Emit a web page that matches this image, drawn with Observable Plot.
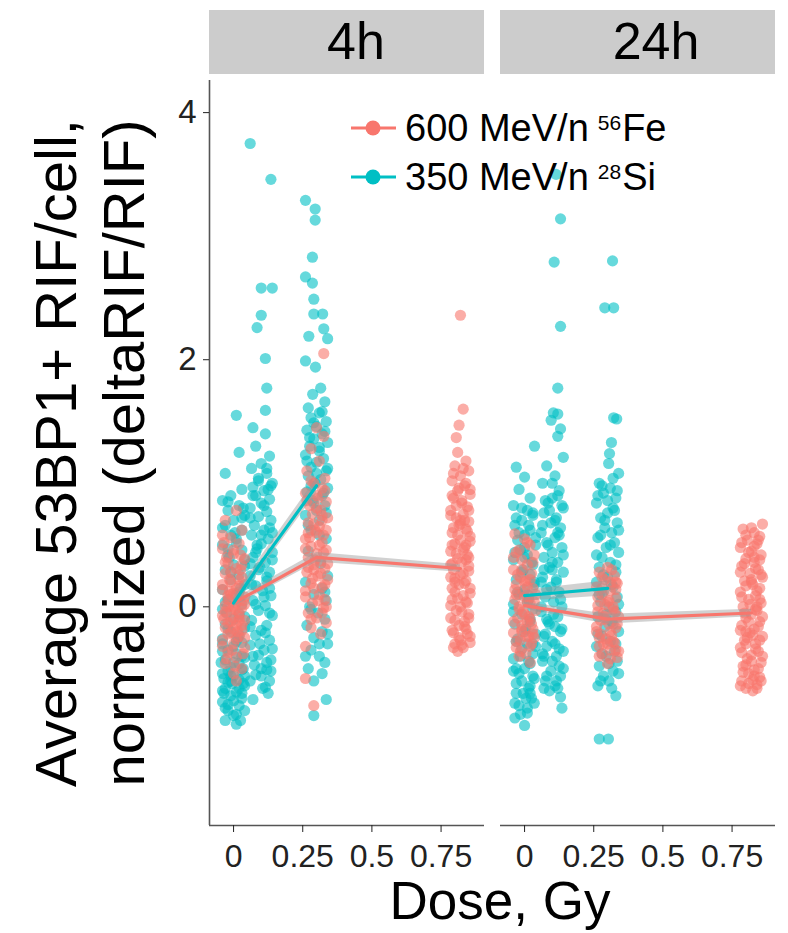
<!DOCTYPE html>
<html>
<head>
<meta charset="utf-8">
<script src="https://cdn.jsdelivr.net/npm/d3@7"></script>
<script src="https://cdn.jsdelivr.net/npm/@observablehq/plot@0.6"></script>
<style>
  html, body { margin: 0; padding: 0; background: white; }
  #wrap { position: relative; width: 788px; height: 933px; font-family: "Liberation Sans", Arial, Helvetica, sans-serif; }
  #xlabel { position: absolute; left: 300px; width: 400px; top: 874px; text-align: center; font-size: 53px; line-height: 53px; color: black; }
  #legend { position: absolute; left: 0; top: 0; pointer-events: none; }
</style>
</head>
<body>
<div id="wrap"></div>
<script>
// ---------- data ----------
const times = ["4h", "24h"];
const ionKeys = ["Fe", "Si"];
const ionLabels = ["600 MeV/n", "350 MeV/n"];
const ionIsotopeMass = ["56", "28"];
const ionElement = ["Fe", "Si"];
const ionColors = ["#F8766D", "#00BFC4"];
const xTicks = [0, 0.25, 0.5, 0.75];
const yTicks = [0, 2, 4];
const xDomain = [-0.087, 0.907];
const yDomain = [-1.77, 4.26];
const yTitle = "Average 53BP1+ RIF/cell,\nnormalized (deltaRIF/RIF)";
const xTitle = "Dose, Gy";

const dosesFe = [0, 0.3, 0.82];
const dosesSi = [0, 0.1, 0.3];

// group means and half-width of the grey band
const fe4hMean = [0.03, 0.40, 0.31];
const fe4hBand = [0.03, 0.04, 0.03];
const si4hMean = [0.03, 0.36, 0.98];
const si4hBand = [0.04, 0.05, 0.06];
const fe24hMean = [0.01, -0.10, -0.05];
const fe24hBand = [0.03, 0.04, 0.03];
const si24hMean = [0.09, 0.11, 0.15];
const si24hBand = [0.04, 0.05, 0.06];

// individual cells: [jitter offset (Gy), value]
const si4h_0 = [[.01,1.55],[.02,1.25],[-.03,1.08],[.03,0.95],[-.01,0.9],[-.04,0.86],[.02,0.82],[-.02,0.78],[.04,0.74],[0,0.70],
[-.03,0.66],[.03,0.62],[-.01,0.58],[.01,0.55],[-.04,0.5],[.03,0.46],[-.02,0.42],[.04,0.38],[0,0.34],[-.03,0.3],
[.02,0.26],[-.01,0.22],[.04,0.18],[-.04,0.14],[.01,0.1],[-.02,0.06],[.03,0.02],[-.04,-0.02],[.02,-0.06],[0,-0.1],
[-.03,-0.14],[.04,-0.17],[-.01,-0.2],[.02,-0.23],[-.04,-0.26],[.03,-0.29],[0,-0.32],[-.02,-0.35],[.01,-0.38],[.04,-0.41],
[-.03,-0.43],[.02,-0.46],[-.01,-0.49],[.03,-0.51],[-.04,-0.54],[0,-0.56],[.02,-0.59],[-.02,-0.61],[.04,-0.64],[-.03,-0.66],
[.01,-0.69],[-.01,-0.72],[.03,-0.74],[-.04,-0.77],[.02,-0.8],[-.02,-0.84],[0,-0.88],[-.03,-0.92],[.01,-0.95],[-.04,-0.3],
[.035,-0.5],[-.035,-0.7],[.015,-0.25],[-.015,0.4],[.025,0.15],[-.025,-0.05],[.005,0.6],[-.005,-0.62],[.035,0.8],[-.045,-0.45],
[-.02,0.85],[.03,0.72],[-.04,0.64],[.01,0.52],[-.02,0.47],[.04,0.33],[-.01,0.28],[.02,0.12],[-.03,0.04],[.04,-0.08],[-.02,-0.18],[.01,-0.28],[-.04,-0.36],[.03,-0.4],[0,-0.45],
[-.02,-0.52],[.04,-0.56],[-.01,-0.6],[.02,-0.66],[-.04,-0.68],[.03,-0.7],[0,-0.76],[-.02,-0.79],[.04,-0.84],[.01,-0.87],[-.03,-0.82],[.025,-0.92],[-.01,-0.56],[.035,-0.62],[-.035,-0.58]];
const si4h_1 = [[-.04,3.75],[.035,3.46],[0,2.58],[.04,2.58],[0,2.36],[-.015,2.26],[.015,2.01],[.02,1.77],[.015,1.59],[-.03,1.45],[.015,1.4],
[-.02,1.3],[.03,1.22],[0,1.16],[-.035,1.12],[.02,1.08],[-.01,1.04],[.04,1.0],[-.03,0.97],[.01,0.94],[-.02,0.9],[.03,0.87],
[0,0.84],[-.04,0.8],[.02,0.77],[-.01,0.73],[.035,0.7],[-.025,0.66],[.01,0.62],[-.035,0.58],[.025,0.55],[0,0.51],[-.015,0.47],
[.04,0.44],[-.03,0.4],[.015,0.36],[-.005,0.32],[.03,0.28],[-.04,0.25],[.02,0.21],[-.02,0.17],[.005,0.13],[.035,0.09],[-.03,0.05],
[.015,0.01],[-.01,-0.03],[.04,-0.07],[-.035,-0.11],[.02,-0.15],[0,-0.19],[-.02,-0.23],[.03,-0.27],[-.04,-0.31],[.01,-0.35],
[-.01,-0.39],[.035,-0.43],[-.025,-0.47],[.02,-0.51],[0,-0.56],[.03,-0.6],[.015,-0.65],[-.03,-0.75],[.04,0.6],[-.04,0.35],[.025,0.95],
[.02,1.12],[-.01,1.02],[.035,0.98],[-.03,0.9],[.01,0.82],[-.04,0.72],[.03,0.64],[0,0.58],[-.02,0.44],[.04,0.38],[-.01,0.3],[.02,0.24],[-.035,0.18],[.01,0.08],[-.02,0.02],
[.03,-0.05],[-.04,-0.16],[.015,-0.21],[-.005,-0.3],[.04,-0.34],[-.03,-0.4],[.02,-0.45],[0,-0.5],[-.02,-0.55],[.035,-0.52],[-.04,-0.6],[.005,-0.66],[.025,-0.7],[-.015,0.5],[.03,0.15]];
const si4h_3 = [[-.04,3.29],[-.005,3.22],[-.005,3.13],[-.015,2.83],[-.04,2.67],[-.015,2.62],[-.01,2.49],[-.01,2.37],[.022,2.37],[.026,2.25],[-.028,2.19],[.04,2.17],[-.04,1.99],[-.004,1.94],[.015,1.77],[-.014,1.72],
[.03,1.66],[-.03,1.61],[.01,1.57],[-.02,1.53],[.035,1.5],[0,1.46],[-.035,1.43],[.02,1.4],[-.01,1.36],[.04,1.33],[-.025,1.3],[.01,1.26],[-.04,1.23],[.025,1.2],[0,1.17],[-.02,1.13],[.035,1.1],[-.03,1.06],[.015,1.03],[-.005,1.0],[.04,0.96],[-.035,0.93],[.02,0.9],[-.015,0.86],[.03,0.82],[0,0.78],[-.04,0.74],[.01,0.7],
[-.02,0.62],[.035,0.55],[-.03,0.45],[.015,0.35],[.04,0.25],[-.04,0.2],[.02,0.15],[-.01,0.1],[.035,0.05],[-.025,0.0],[.005,-0.05],[.03,-0.1],[-.035,-0.15],[.02,-0.2],[-.01,-0.25],[.04,-0.3],[-.02,-0.35],[.01,-0.4],[.03,-0.45],[-.03,-0.5],[.02,-0.54],[.035,-0.75],[-.01,-0.88],
[.02,1.58],[-.01,1.49],[.03,1.42],[-.025,1.37],[.01,1.29],[-.035,1.18],[.04,1.12],[0,1.08],[-.02,0.98],[.025,0.92],[-.01,0.84],[.035,0.76],[-.03,0.66],[.01,0.58],[.03,0.12],[-.02,-0.02],[.04,-0.22],[-.04,-0.4],[.01,-0.3],[-.01,-0.6]];
const fe4h_0 = [[.01,0.78],[-.03,0.7],[.03,0.62],[-.01,0.56],[.02,0.51],[-.04,0.47],[0,0.43],[.04,0.39],[-.02,0.35],[.01,0.31],
[-.03,0.27],[.03,0.24],[-.01,0.2],[.02,0.17],[-.04,0.14],[0,0.11],[.04,0.08],[-.02,0.06],[.01,0.03],[-.03,0.01],
[.03,-0.01],[-.01,-0.03],[.02,-0.05],[-.04,-0.07],[0,-0.09],[.04,-0.11],[-.02,-0.13],[.01,-0.15],[-.03,-0.17],[.03,-0.19],
[-.01,-0.21],[.02,-0.24],[-.04,-0.27],[0,-0.3],[.04,-0.33],[-.02,-0.37],[.01,-0.41],[-.03,-0.46],[.03,-0.5],[0,-0.54],
[-.02,0.0],[.02,-0.08],[-.01,0.1],[.015,-0.2],[-.035,-0.1],[.035,0.05],[-.015,0.22],[.005,-0.02],[-.025,0.4],[.025,0.3],
[-.005,-0.35],[.01,-0.6],[-.04,0.58],
[0,0.46],[-.03,0.36],[.03,0.34],[-.01,0.28],[.02,0.22],[-.04,0.18],[.01,0.15],[-.02,0.09],[.04,0.02],[0,-0.0],[-.03,-0.04],[.02,-0.11],[-.01,-0.12],
[.03,-0.15],[-.02,-0.22],[.01,-0.26],[-.04,-0.32],[.04,-0.25],[0,-0.18],[-.015,0.13],[.025,0.42],[-.025,-0.42],[.005,-0.48],[-.035,0.52],[.035,-0.38]];
const fe4h_3 = [[.026,2.05],[0,1.45],[.026,1.38],[-.02,1.28],[.01,1.18],[-.035,1.1],[.03,1.04],[-.01,1.0],[.02,0.96],[-.04,0.92],[.005,0.88],[.035,0.85],[-.025,0.82],[.015,0.78],[-.015,0.75],[.04,0.72],[-.03,0.68],[.01,0.65],[-.005,0.62],[.025,0.58],[-.04,0.55],[.02,0.52],[-.02,0.49],[.035,0.46],[0,0.43],[-.03,0.4],[.015,0.37],[-.01,0.34],[.03,0.31],[-.035,0.28],[.005,0.25],[.04,0.22],[-.02,0.19],[.02,0.16],[-.04,0.13],[.01,0.1],[.03,0.06],[-.015,0.03],[.025,-0.01],[-.03,-0.05],[0,-0.09],[.035,-0.13],[-.02,-0.17],[.015,-0.22],[-.04,-0.32],[-.04,-0.58],[-.01,-0.8],
[0,0.6],[-.01,0.3],[.02,0.7],
[-.02,1.02],[.03,0.94],[-.035,0.86],[0,0.8],[.02,0.74],[-.01,0.67],[.035,0.62],[-.025,0.56],[.01,0.5],[-.04,0.47],[.025,0.44],[-.005,0.38],[.04,0.35],
[-.03,0.32],[.015,0.27],[-.015,0.23],[.03,0.18],[-.04,0.08],[.005,0.05],[.02,-0.05],[-.02,-0.1],[.035,0.0],[-.01,0.15],[0,0.9],[-.03,0.6]];
const fe4h_8 = [[0,2.36],[.01,1.6],[-.005,1.47],[-.015,1.37],[-.01,1.25],[.02,1.18],[-.02,1.14],[.03,1.1],[0,1.06],[-.03,1.02],[.015,0.98],[-.01,0.94],[.035,0.91],[-.025,0.88],[.005,0.84],[.025,0.81],[-.035,0.78],[.01,0.75],[-.015,0.72],[.03,0.69],[-.005,0.66],[.02,0.63],[-.03,0.6],[.035,0.57],[0,0.54],[-.02,0.51],[.015,0.48],[-.035,0.45],[.025,0.42],[-.01,0.39],[.005,0.36],[.03,0.33],[-.025,0.3],[.01,0.27],[-.035,0.24],[.02,0.21],[-.005,0.18],[.035,0.15],[-.02,0.12],[.01,0.09],[-.03,0.06],[.025,0.03],[0,0.0],[-.015,-0.03],[.03,-0.06],[-.035,-0.09],[.015,-0.12],[-.005,-0.15],[.02,-0.18],[-.025,-0.21],[.035,-0.24],[0,-0.27],[-.02,-0.3],[.01,-0.33],[-.01,-0.36],
[.02,0.5],[-.02,0.2],[0,0.7],[.03,0.4],[-.03,0.35],
[.01,1.12],[-.025,1.08],[.02,1.0],[-.005,0.96],[.035,0.95],[-.03,0.9],[.005,0.86],[-.015,0.82],[.03,0.78],[-.035,0.74],[.015,0.7],[0,0.67],[-.025,0.64],[.025,0.61],[-.01,0.58],[.035,0.53],[-.03,0.5],[.01,0.46],[-.015,0.43],[.02,0.38],
[-.035,0.34],[.03,0.29],[0,0.26],[-.02,0.23],[.015,0.19],[-.03,0.15],[.035,0.11],[-.01,0.07],[.02,0.04],[-.035,0.01],[.005,-0.04],[.03,-0.09],[-.02,-0.11],[.015,-0.16],[-.03,-0.19],[.025,-0.22],[-.005,-0.25],[.035,-0.29],[-.025,-0.33],[.005,-0.31]];
const si24h_0 = [[.036,1.3],[-.03,1.13],[0,1.05],[-.02,0.95],[.02,0.88],[-.04,0.82],[.01,0.78],[.03,0.74],[-.01,0.7],[-.035,0.66],[.02,0.62],[0,0.58],[-.025,0.54],[.04,0.5],[-.015,0.46],[.01,0.42],[-.04,0.38],[.03,0.34],[-.005,0.3],[.02,0.26],[-.03,0.22],[.035,0.18],[0,0.14],[-.02,0.1],[.015,0.06],[-.04,0.02],[.03,-0.02],[-.01,-0.06],[.02,-0.1],[-.035,-0.14],[.005,-0.18],[.04,-0.22],[-.025,-0.26],[.01,-0.3],[-.01,-0.34],[.03,-0.38],[-.04,-0.42],[.02,-0.46],[0,-0.5],[-.02,-0.54],[.035,-0.58],[-.03,-0.62],[.015,-0.66],[-.005,-0.7],[.025,-0.74],[-.035,-0.78],[.01,-0.82],[-.015,-0.87],[0,-0.96],
[.03,-0.3],[-.03,-0.5],[0,0.4],[.02,-0.7],
[-.01,0.8],[.03,0.76],[-.03,0.72],[.015,0.66],[-.02,0.6],[.04,0.56],[0,0.48],[-.035,0.44],[.025,0.36],[-.01,0.28],[.035,0.2],[-.025,0.12],[.01,0.04],[-.04,-0.04],[.02,-0.12],
[0,-0.2],[-.03,-0.28],[.04,-0.32],[-.015,-0.4],[.015,-0.44],[-.04,-0.52],[.03,-0.56],[-.01,-0.6],[.02,-0.64],[-.03,-0.7],[.005,-0.74],[.035,-0.78],[-.02,-0.8],[.01,-0.86],[-.035,-0.9]];
const si24h_1 = [[.014,3.5],[.03,3.14],[.007,2.79],[.03,2.27],[.02,1.77],[.004,1.57],[.02,1.56],[-.004,1.51],[.03,1.44],[.02,1.38],[.04,1.21],
[-.02,1.14],[.01,1.06],[-.035,1.0],[.025,0.94],[0,0.88],[-.015,0.84],[.04,0.8],[-.03,0.76],[.015,0.72],[-.005,0.68],[.03,0.64],[-.04,0.6],[.01,0.56],[-.02,0.52],[.035,0.48],[0,0.44],[-.03,0.4],[.02,0.36],[-.01,0.32],[.04,0.28],[-.035,0.24],[.015,0.2],[-.005,0.16],[.025,0.12],[-.025,0.08],[.005,0.04],[.035,0.0],[-.04,-0.04],[.02,-0.08],[-.015,-0.12],[.01,-0.16],[.03,-0.2],[-.03,-0.24],[0,-0.28],[-.02,-0.32],[.04,-0.36],[.015,-0.4],[-.035,-0.44],[.025,-0.48],[-.005,-0.52],[.03,-0.56],[-.025,-0.6],[.01,-0.64],[-.01,-0.68],[.03,-0.73],[.035,-0.82],
[0,0.3],[-.02,-0.1],[.02,0.6],[-.03,-0.4],
[.02,0.9],[-.025,0.86],[.035,0.82],[-.01,0.78],[.01,0.7],[-.035,0.66],[.025,0.58],[-.015,0.5],[.04,0.42],[0,0.36],[-.03,0.3],[.015,0.22],[-.02,0.14],[.03,0.06],[-.04,0.0],
[.005,-0.06],[-.01,-0.14],[.035,-0.18],[-.025,-0.22],[.01,-0.3],[.025,-0.34],[-.035,-0.38],[0,-0.44],[.04,-0.5],[-.02,-0.56],[.015,-0.6],[-.03,-0.66],[.02,-0.66],[0,1.0],[-.04,0.2]];
const si24h_3 = [[.018,2.8],[-.01,2.42],[.022,2.42],[.022,1.53],[.033,1.52],[.014,1.33],[.007,1.24],[.004,1.16],[.04,1.08],
[-.03,1.0],[.01,0.96],[-.015,0.92],[.03,0.88],[-.04,0.84],[.02,0.8],[0,0.76],[-.025,0.72],[.035,0.68],[-.01,0.64],[.015,0.6],[-.035,0.56],[.025,0.52],[-.005,0.48],[.04,0.44],[-.02,0.4],[.01,0.36],[-.03,0.32],[.03,0.28],[0,0.24],[-.04,0.2],[.02,0.16],[-.015,0.12],[.035,0.08],[-.025,0.04],[.005,0.0],[.03,-0.04],[-.035,-0.08],[.015,-0.12],[-.01,-0.16],[.04,-0.2],[-.02,-0.24],[.01,-0.28],[-.04,-0.32],[.025,-0.36],[-.005,-0.4],[.035,-0.44],[-.03,-0.48],[.02,-0.52],[-.015,-0.56],[.005,-0.6],[-.035,-0.64],[.03,-0.72],[-.03,-1.07],[.003,-1.07],
[.02,1.04],[-.02,0.98],[.035,0.94],[-.035,0.9],[0,0.86],[.025,0.78],[-.01,0.7],[.04,0.62],[-.025,0.58],[.01,0.5],[-.04,0.42],[.03,0.34],[-.015,0.26],
[.015,0.18],[-.03,0.1],[.04,0.02],[-.005,-0.06],[.02,-0.14],[-.035,-0.22],[.03,-0.3],[-.02,-0.38],[.005,-0.46],[.04,-0.54],[-.025,-0.6],[.015,-0.66]];
const fe24h_0 = [[-.035,0.59],[0,0.55],[.02,0.5],[-.02,0.46],[.035,0.42],[-.01,0.38],[.01,0.34],[-.04,0.3],[.025,0.27],[-.015,0.24],[.005,0.21],[-.03,0.18],[.03,0.15],[-.005,0.12],[.015,0.09],[-.035,0.06],[.02,0.03],[-.02,0.0],[.04,-0.03],[0,-0.06],[-.025,-0.09],[.01,-0.12],[-.01,-0.15],[.03,-0.18],[-.04,-0.21],[.015,-0.24],[-.015,-0.27],[.025,-0.3],[-.03,-0.33],[.005,-0.38],[.02,-0.45],
[-.03,0.1],[0,0.2],[.02,-0.1],[-.01,-0.2],[.01,0.05],
[.01,0.52],[-.03,0.44],[.03,0.36],[-.01,0.3],[.02,0.22],[-.035,0.14],[0,0.08],[.035,0.04],[-.02,-0.02],[.015,-0.08],[-.04,-0.12],[.025,-0.14],[-.01,-0.18],
[.005,-0.24],[-.03,-0.28],[.035,-0.25],[-.015,-0.36],[.02,-0.32],[-.025,0.26],[.01,0.16],[-.005,-0.04],[.03,-0.22],[-.04,0.4],[.04,0.1],[-.02,-0.4]];
const fe24h_3 = [[0,0.32],[-.03,0.28],[.025,0.25],[-.01,0.22],[.035,0.19],[-.04,0.16],[.01,0.13],[-.02,0.1],[.03,0.07],[0,0.04],[-.035,0.01],[.02,-0.02],[-.015,-0.05],[.04,-0.08],[-.025,-0.11],[.005,-0.14],[.03,-0.17],[-.04,-0.2],[.015,-0.23],[-.005,-0.26],[.025,-0.29],[-.03,-0.32],[.01,-0.35],[-.02,-0.38],[.035,-0.41],[0,-0.46],
[-.01,-0.1],[.02,0],[-.03,-0.25],[.01,0.2],[.03,-0.35],[-.02,0.15],
[.015,0.3],[-.02,0.24],[.03,0.14],[-.035,0.08],[.005,0.05],[.025,-0.04],[-.01,-0.08],[.035,-0.14],[-.04,-0.16],[.01,-0.2],[-.025,-0.22],[.02,-0.28],[-.015,-0.3],[.04,-0.36],[-.03,-0.4],[.01,-0.42],[-.01,0.02],[.03,0.2],[-.035,-0.04],[0,-0.3]];
const fe24h_8 = [[.04,0.67],[-.03,0.63],[.01,0.6],[.03,0.57],[-.015,0.54],[.02,0.51],[-.04,0.48],[0,0.45],[.035,0.42],[-.02,0.39],[.01,0.36],[-.035,0.33],[.025,0.3],[-.005,0.27],[.04,0.24],[-.025,0.21],[.005,0.18],[.03,0.15],[-.04,0.12],[.015,0.09],[-.01,0.06],[.035,0.03],[-.03,0.0],[.02,-0.03],[0,-0.06],[-.02,-0.09],[.03,-0.12],[-.035,-0.15],[.01,-0.18],[-.005,-0.21],[.04,-0.24],[-.025,-0.27],[.015,-0.3],[-.04,-0.33],[.025,-0.36],[0,-0.39],[-.015,-0.42],[.035,-0.45],[-.03,-0.48],[.01,-0.51],[-.01,-0.54],[.03,-0.57],[-.035,-0.6],[.02,-0.63],[-.02,-0.66],[.005,-0.68],
[0,0.2],[-.02,-0.2],[.02,0],[.01,0.4],
[0,0.64],[-.02,0.58],[.025,0.54],[-.035,0.52],[.01,0.49],[-.01,0.44],[.03,0.38],[-.025,0.35],[.015,0.31],[-.04,0.28],[.035,0.26],[0,0.22],[-.02,0.17],[.02,0.13],[-.035,0.08],[.03,0.06],[-.005,0.02],[.015,-0.02],[-.025,-0.05],[.04,-0.08],
[-.01,-0.12],[.025,-0.16],[-.04,-0.19],[.005,-0.23],[.03,-0.27],[-.02,-0.3],[.015,-0.34],[-.035,-0.37],[.04,-0.4],[0,-0.44],[-.02,-0.47],[.025,-0.5],[-.03,-0.53],[.01,-0.56],[.035,-0.6],[-.01,-0.62],[.02,-0.66],[-.04,-0.64],[.005,-0.59],[-.015,-0.25]];

// ---------- tables built from the arrays ----------
const cellGroups = [
  ["4h", "Si", dosesSi[0], si4h_0], ["4h", "Si", dosesSi[1], si4h_1], ["4h", "Si", dosesSi[2], si4h_3],
  ["24h", "Si", dosesSi[0], si24h_0], ["24h", "Si", dosesSi[1], si24h_1], ["24h", "Si", dosesSi[2], si24h_3],
  ["4h", "Fe", dosesFe[0], fe4h_0], ["4h", "Fe", dosesFe[1], fe4h_3], ["4h", "Fe", dosesFe[2], fe4h_8],
  ["24h", "Fe", dosesFe[0], fe24h_0], ["24h", "Fe", dosesFe[1], fe24h_3], ["24h", "Fe", dosesFe[2], fe24h_8]
];
const cells = cellGroups.flatMap(([time, ion, dose, pts]) =>
  pts.map(([dx, v]) => ({time, ion, x: dose + dx, y: v})));

const meanGroups = [
  ["4h", "Fe", dosesFe, fe4hMean, fe4hBand], ["4h", "Si", dosesSi, si4hMean, si4hBand],
  ["24h", "Fe", dosesFe, fe24hMean, fe24hBand], ["24h", "Si", dosesSi, si24hMean, si24hBand]
];
const means = meanGroups.flatMap(([time, ion, doses, m, b]) =>
  doses.map((d, i) => ({time, ion, dose: d, mean: m[i], lo: m[i] - b[i], hi: m[i] + b[i]})));

// ---------- chart ----------
const W = 788, H = 872, mT = 80, mB = 47, mL = 209, mR = 13;
const frameH = H - mT - mB;
const font = "'Liberation Sans', Arial, Helvetica, sans-serif";

const chart = Plot.plot({
  width: W, height: H,
  marginTop: mT, marginBottom: mB, marginLeft: mL, marginRight: mR,
  style: {fontFamily: font, background: "white", overflow: "visible"},
  x: {domain: xDomain},
  y: {domain: yDomain},
  fx: {domain: times, paddingInner: 0.055, paddingOuter: 0, axis: null, label: null},
  color: {domain: ionKeys, range: ionColors},
  marks: [
    // facet strips
    Plot.rect(times, {fx: d => d, x1: xDomain[0], x2: xDomain[1], insetTop: -70, insetBottom: frameH + 6, fill: "#cccccc"}),
    Plot.text([times[0]], {fx: d => d, text: d => d, frameAnchor: "top", dy: -38, dx: 9, lineAnchor: "middle", fontSize: 52, fill: "black"}),
    Plot.text([times[1]], {fx: d => d, text: d => d, frameAnchor: "top", dy: -38, dx: 18, lineAnchor: "middle", fontSize: 52, fill: "black"}),
    // cells
    Plot.dot(cells, {fx: "time", x: "x", y: "y", fill: "ion", r: 5.6, fillOpacity: 0.6, stroke: null}),
    // group means with band
    Plot.areaY(means, {fx: "time", x: "dose", y1: "lo", y2: "hi", z: "ion", fill: "#999999", fillOpacity: 0.45}),
    Plot.lineY(means, {fx: "time", x: "dose", y: "mean", z: "ion", stroke: "ion", strokeWidth: 3.2}),
    // axes
    Plot.ruleX([xDomain[0]], {fx: () => times[0], stroke: "#555", strokeWidth: 1.6}),
    Plot.ruleY([yDomain[0]], {stroke: "#555", strokeWidth: 1.6}),
    Plot.axisY({ticks: yTicks, tickSize: 6, tickPadding: 7, fontSize: 33, label: null, color: "#222", tickFormat: d => String(d)}),
    Plot.axisX({ticks: xTicks, tickSize: 7, tickPadding: 12, fontSize: 32, label: null, color: "#222", tickFormat: d => String(d)}),
    // y title
    Plot.text([yTitle], {fx: () => times[0], text: d => d, frameAnchor: "left", textAnchor: "middle", rotate: -90, dx: -121, lineAnchor: "middle", lineHeight: 1.16, fontSize: 58, fill: "black"})
  ]
});

const wrap = document.getElementById("wrap");
wrap.appendChild(chart);

// x title
const xl = document.createElement("div");
xl.id = "xlabel";
xl.textContent = xTitle;
wrap.appendChild(xl);

// legend (inside panel)
const lg = d3.select(wrap).append("svg").attr("id", "legend").attr("width", W).attr("height", 240)
  .style("font-family", font);
ionKeys.forEach((k, i) => {
  const cy = 128 + i * 49;
  const g = lg.append("g");
  g.append("line").attr("x1", 351).attr("x2", 396).attr("y1", cy).attr("y2", cy)
    .attr("stroke", ionColors[i]).attr("stroke-width", 3);
  g.append("circle").attr("cx", 373).attr("cy", cy).attr("r", 7.5).attr("fill", ionColors[i]);
  const t = g.append("text").attr("x", 405).attr("y", cy + 13).attr("font-size", 38).attr("fill", "black");
  t.append("tspan").text(ionLabels[i]);
  t.append("tspan").attr("dx", 9).attr("dy", -11).attr("font-size", 21).text(ionIsotopeMass[i]);
  t.append("tspan").attr("dx", 1).attr("dy", 11).text(ionElement[i]);
});
</script>
</body>
</html>
